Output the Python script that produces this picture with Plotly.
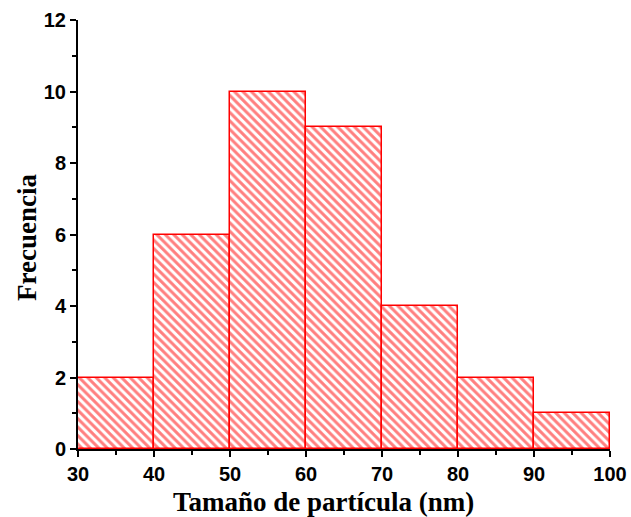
import plotly.graph_objects as go

bin_edges = [30, 40, 50, 60, 70, 80, 90, 100]
counts = [2, 6, 10, 9, 4, 2, 1]
x_ticks = [30, 40, 50, 60, 70, 80, 90, 100]
y_ticks = [0, 2, 4, 6, 8, 10, 12]

centers = [(a + b) / 2 for a, b in zip(bin_edges[:-1], bin_edges[1:])]
widths = [b - a for a, b in zip(bin_edges[:-1], bin_edges[1:])]

fig = go.Figure(go.Bar(
    x=centers, y=counts, width=widths,
    marker=dict(color="white",
                line=dict(color="#ff0000", width=1.5),
                pattern=dict(shape="\\", fgcolor="#ff0000", bgcolor="white",
                             size=6, solidity=0.5)),
))

axis_font = dict(family="Liberation Sans, Arial", size=20, color="black")
title_font = dict(family="Liberation Serif, Times New Roman", size=27, color="black")

fig.update_layout(
    width=631, height=517,
    margin=dict(l=78, r=21, t=20, b=68, autoexpand=False),
    paper_bgcolor="white", plot_bgcolor="white",
    showlegend=False,
    bargap=0,
    annotations=[
        dict(text="<b>Tamaño de partícula (nm)</b>", font=title_font,
             xref="paper", yref="paper", x=(323 - 78) / (610 - 78), y=(449 - 502) / (449 - 20),
             xanchor="center", yanchor="middle", showarrow=False),
        dict(text="<b>Frecuencia</b>", font=title_font, textangle=-90,
             xref="paper", yref="paper", x=(27 - 78) / (610 - 78), y=(449 - 238) / (449 - 20),
             xanchor="center", yanchor="middle", showarrow=False),
    ],
)
fig.update_xaxes(
    range=[30, 100], tickvals=x_ticks, ticktext=[f"<b>{v}</b>" for v in x_ticks],
    automargin=False,
    showline=True, linecolor="black", linewidth=2, mirror=False,
    ticks="outside", ticklen=6, tickwidth=2, tickcolor="black",
    minor=dict(dtick=5, ticks="outside", ticklen=4, tickwidth=2, tickcolor="black", tick0=30),
    showgrid=False, zeroline=False, tickfont=axis_font,
)
fig.update_yaxes(
    range=[0, 12], tickvals=y_ticks, ticktext=[f"<b>{v}</b>" for v in y_ticks],
    automargin=False,
    showline=True, linecolor="black", linewidth=2, mirror=False,
    ticks="outside", ticklen=6, tickwidth=2, tickcolor="black",
    minor=dict(dtick=1, ticks="outside", ticklen=4, tickwidth=2, tickcolor="black"),
    showgrid=False, zeroline=False, tickfont=axis_font,
)

fig.write_html("out.html")
